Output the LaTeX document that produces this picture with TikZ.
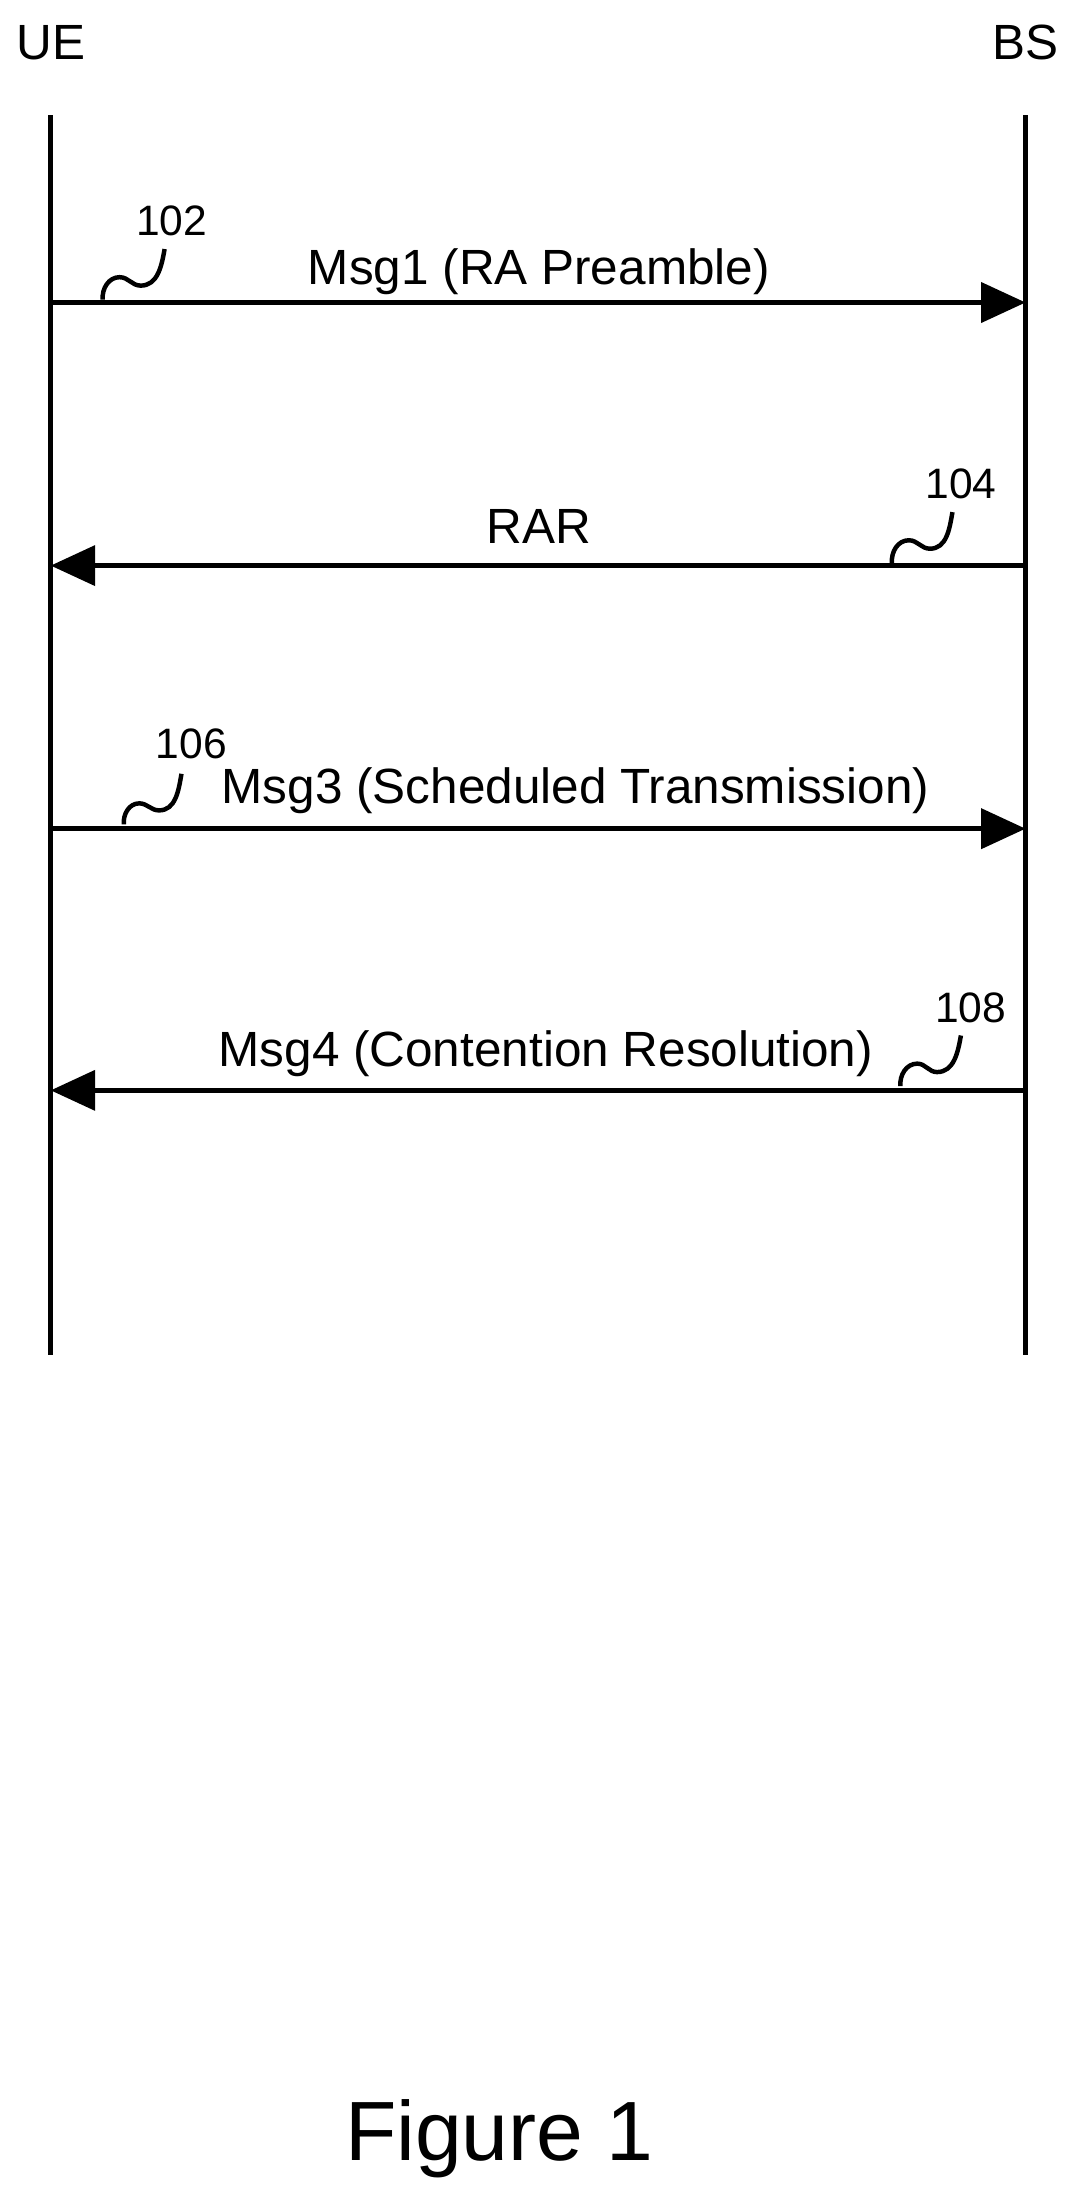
\documentclass[tikz,border=0pt]{standalone}
\usepackage{fontspec}
\setmainfont{Liberation Sans}
\usetikzlibrary{arrows.meta}

\begin{document}
\begin{tikzpicture}[x=0.01cm,y=-0.01cm,
		msg/.style={line width=1.1pt,-{Triangle[length=9pt,width=8pt]}},
		lifeline/.style={line width=1.1pt},
		squig/.style={line width=0.9pt},
		lbl/.style={font=\fontsize{10}{12}\selectfont},
		num/.style={font=\fontsize{8.6}{10}\selectfont}]
		\useasboundingbox (0,0) rectangle (765,1568);

		\node[lbl] at (36,30)(ue){UE};
		\node[lbl] at (729,30)(bs){BS};
		\coordinate (ueTop) at (36,82);
		\coordinate (ueBot) at (36,963);
		\coordinate (bsTop) at (729,82);
		\coordinate (bsBot) at (729,963);
		\draw[lifeline] (ueTop)--(ueBot);
		\draw[lifeline] (bsTop)--(bsBot);

		% messages
		\coordinate (m1s) at (36,215); \coordinate (m1e) at (729,215);
		\coordinate (m2s) at (729,402); \coordinate (m2e) at (36,402);
		\coordinate (m3s) at (36,589); \coordinate (m3e) at (729,589);
		\coordinate (m4s) at (729,775); \coordinate (m4e) at (36,775);
		\draw[msg] (m1s)--(m1e);
		\draw[msg] (m2s)--(m2e);
		\draw[msg] (m3s)--(m3e);
		\draw[msg] (m4s)--(m4e);

		\node[lbl] at (383,193)(t1){Msg1 (RA Preamble)};
		\node[lbl] at (383,374)(t2){RAR};
		\node[lbl] at (409,562)(t3){Msg3 (Scheduled Transmission)};
		\node[lbl] at (388,749)(t4){Msg4 (Contention Resolution)};

		% reference numerals
		\node[num] at (122,157)(n1){102};
		\node[num] at (683,344)(n2){104};
		\node[num] at (136,529)(n3){106};
		\node[num] at (690,716)(n4){108};
		\draw[squig] (73,213) to[out=95,in=180] (85,197) to[out=0,in=180] (100,203) to[out=0,in=-100] (117,177);
		\draw[squig] (634,400) to[out=95,in=180] (646,384) to[out=0,in=180] (661,390) to[out=0,in=-100] (677,364);
		\draw[squig] (88,586) to[out=95,in=180] (99,571) to[out=0,in=180] (113,576) to[out=0,in=-100] (129,550);
		\draw[squig] (640,772) to[out=95,in=180] (652,756) to[out=0,in=180] (666,762) to[out=0,in=-100] (683,736);

		\node[font=\fontsize{17}{20}\selectfont] at (355,1520)(fig){Figure 1};
	\end{tikzpicture}
\end{document}
